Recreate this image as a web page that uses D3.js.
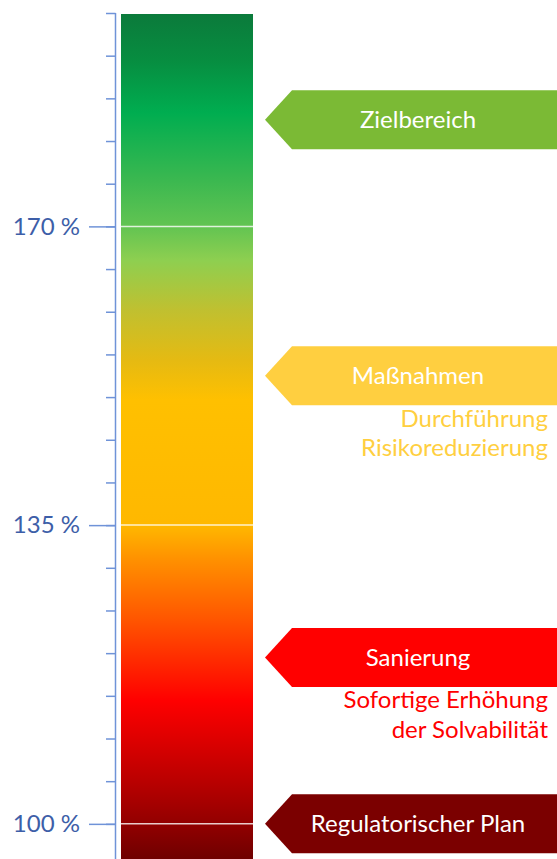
<!DOCTYPE html>
<html>
<head>
<meta charset="utf-8">
<script src="https://cdn.jsdelivr.net/npm/d3@7/dist/d3.min.js"></script>
<style>
  html, body { margin: 0; padding: 0; background: #fff; }
  svg { display: block; }
  text { font-family: Lato, "Open Sans", sans-serif; }
</style>
</head>
<body>
<script>
// Solvency ratio scale (%)
const axisTicks = [195, 190, 185, 180, 175, 170, 165, 160, 155, 150, 145, 140, 135, 130, 125, 120, 115, 110, 105, 100];
const majorTicks = [170, 135, 100];
const majorLabels = ["170 %", "135 %", "100 %"];

// Colour ramp of the bar, keyed by ratio level
const rampLevels = [195, 189.5, 183.3, 175.4, 170, 166, 160.2, 154.3, 149.6, 135, 130.9, 123.9, 114.5, 105.2, 100.5, 96];
const rampColors = ["#0b7a3b", "#078d40", "#00ad50", "#3bb850", "#62c452", "#8ecf50", "#c0c030", "#e5ba12", "#ffc000", "#ffb800", "#ff9000", "#ff5500", "#ff0000", "#bb0000", "#960000", "#700000"];

// Zones pointing at the bar
const zoneNames = ["Zielbereich", "Maßnahmen", "Sanierung", "Regulatorischer Plan"];
const zoneLevels = [182.5, 152.5, 119.5, 100];
const zoneColors = ["#7bba35", "#ffcf40", "#ff0000", "#7b0000"];
const zoneNotes = [[], ["Durchführung", "Risikoreduzierung"], ["Sofortige Erhöhung", "der Solvabilität"], []];
const noteColors = ["#7bba35", "#ffcf40", "#ff0000", "#7b0000"];

const W = 557, H = 859;
const svg = d3.select("body").append("svg").attr("width", W).attr("height", H);

const y = d3.scaleLinear().domain([195, 96]).range([13, 858]);

// gradient bar
const defs = svg.append("defs");
const grad = defs.append("linearGradient")
  .attr("id", "ramp")
  .attr("gradientUnits", "userSpaceOnUse")
  .attr("x1", 0).attr("x2", 0)
  .attr("y1", y(195)).attr("y2", y(96));
rampLevels.forEach((v, i) => {
  grad.append("stop")
    .attr("offset", (y(v) - y(195)) / (y(96) - y(195)))
    .attr("stop-color", rampColors[i]);
});

const barX0 = 121, barX1 = 253;
svg.append("rect")
  .attr("x", barX0).attr("width", barX1 - barX0)
  .attr("y", y(195) + 1).attr("height", H - y(195))
  .attr("fill", "url(#ramp)");

// white separators at the thresholds
svg.append("g").selectAll("line").data(majorTicks).join("line")
  .attr("x1", barX0).attr("x2", barX1)
  .attr("y1", d => y(d)).attr("y2", d => y(d))
  .attr("stroke", "#fff").attr("stroke-opacity", 0.8).attr("stroke-width", 1.5);

// axis
const axisX = 115;
const axisG = svg.append("g").attr("transform", `translate(${axisX},0)`);
axisG.call(d3.axisLeft(y).tickValues(axisTicks).tickSize(9).tickSizeOuter(0).tickFormat(""));
axisG.select(".domain").attr("stroke", "#6f93d8").attr("stroke-width", 1.5)
  .attr("d", `M0.5,${y(195)}V${H}`);
axisG.selectAll(".tick line").attr("stroke", "#6f93d8").attr("stroke-width", 1.5)
  .attr("x1", 0.5);

const majorG = svg.append("g").attr("transform", `translate(${axisX},0)`);
majorG.call(d3.axisLeft(y).tickValues(majorTicks).tickSize(26).tickSizeOuter(0)
  .tickFormat((d, i) => majorLabels[i]));
majorG.select(".domain").remove();
majorG.selectAll(".tick line").attr("stroke", "#6f93d8").attr("stroke-width", 1.5).attr("x1", 0.5);
majorG.selectAll(".tick text")
  .attr("x", -35)
  .attr("fill", "#3d5ea8")
  .style("font-family", "Lato, 'Open Sans', sans-serif")
  .style("font-size", "24px");

// zone arrows
const tipX = 265, bodyX = 292, half = 29.5;
const zones = svg.append("g").selectAll("g").data(zoneNames).join("g")
  .attr("transform", (d, i) => `translate(0,${y(zoneLevels[i])})`);

zones.append("path")
  .attr("d", `M${tipX},0L${bodyX},${-half}H${W + 2}V${half}H${bodyX}Z`)
  .attr("fill", (d, i) => zoneColors[i]);

zones.append("text")
  .attr("x", 418).attr("y", 0)
  .attr("dy", "0.35em")
  .attr("text-anchor", "middle")
  .attr("fill", "#fff")
  .style("font-size", "24px")
  .text(d => d);

zones.each(function (d, i) {
  d3.select(this).selectAll("text.note").data(zoneNotes[i]).join("text")
    .attr("class", "note")
    .attr("x", 548)
    .attr("y", (n, j) => 51 + j * 29.5)
    .attr("text-anchor", "end")
    .attr("fill", noteColors[i])
    .style("font-size", "24px")
    .text(n => n);
});
</script>
</body>
</html>
